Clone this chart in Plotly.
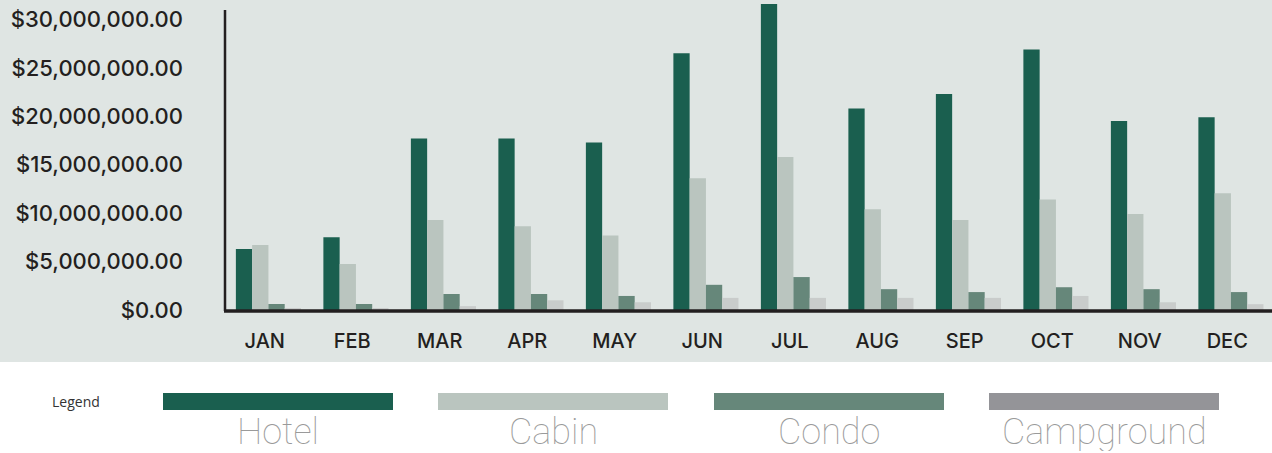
import plotly.graph_objects as go

months = ["JAN", "FEB", "MAR", "APR", "MAY", "JUN", "JUL", "AUG", "SEP", "OCT", "NOV", "DEC"]
hotel = [6.3e6, 7.5e6, 17.7e6, 17.7e6, 17.3e6, 26.5e6, 31.6e6, 20.8e6, 22.3e6, 26.9e6, 19.5e6, 19.9e6]
cabin = [6.7e6, 4.75e6, 9.3e6, 8.65e6, 7.7e6, 13.6e6, 15.8e6, 10.4e6, 9.3e6, 11.4e6, 9.9e6, 12.05e6]
condo = [0.62e6, 0.62e6, 1.65e6, 1.65e6, 1.45e6, 2.6e6, 3.4e6, 2.15e6, 1.85e6, 2.35e6, 2.15e6, 1.85e6]
campground = [0.2e6, 0.2e6, 0.4e6, 1.0e6, 0.8e6, 1.25e6, 1.25e6, 1.25e6, 1.25e6, 1.45e6, 0.8e6, 0.6e6]

series_names = ["Hotel", "Cabin", "Condo", "Campground"]
bar_colors = ["#1a5f4f", "#bac5bf", "#66877a", "#c9cccb"]
legend_colors = ["#1a5f4f", "#bac5bf", "#66877a", "#949498"]
ytick_vals = [0, 5e6, 10e6, 15e6, 20e6, 25e6, 30e6]
ytick_text = ["$0.00", "$5,000,000.00", "$10,000,000.00", "$15,000,000.00",
              "$20,000,000.00", "$25,000,000.00", "$30,000,000.00"]

W, H = 1272, 453
L, R, T, B = 221, 1, 0, 143
PW, PH = W - L - R, H - T - B

def px(x):
    return (x - L) / PW

def py(y):
    return (H - B - y) / PH

fig = go.Figure()
bw = 0.186
offsets = [-0.33, -0.144, 0.042, 0.228]
for name, vals, col, off in zip(series_names, [hotel, cabin, condo, campground], bar_colors, offsets):
    fig.add_trace(go.Bar(x=months, y=vals, name=name, marker=dict(color=col, line=dict(width=0)),
                         width=bw, offset=off))

shapes = [
    dict(type="rect", xref="paper", yref="paper", x0=px(0), x1=px(W), y0=py(362), y1=py(0),
         fillcolor="#dfe5e3", line=dict(width=0), layer="below"),
    dict(type="line", xref="paper", yref="paper", x0=px(225), x1=px(225), y0=py(10), y1=py(311),
         line=dict(color="#231f20", width=2.5)),
    dict(type="line", xref="paper", yref="paper", x0=px(224), x1=px(W), y0=py(311), y1=py(311),
         line=dict(color="#231f20", width=3.5)),
]
annotations = [
    dict(text="Legend", xref="paper", yref="paper", x=px(76), y=py(401), showarrow=False,
         font=dict(family="Open Sans", size=14, color="#333333"), xanchor="center", yanchor="middle"),
]
sw_x = [163, 438, 714, 989]
for name, col, x0 in zip(series_names, legend_colors, sw_x):
    shapes.append(dict(type="rect", xref="paper", yref="paper", x0=px(x0), x1=px(x0 + 230),
                       y0=py(410), y1=py(393), fillcolor=col, line=dict(width=0)))
    annotations.append(dict(text=name, xref="paper", yref="paper", x=px(x0 + 115), y=py(432),
                            showarrow=False, xanchor="center", yanchor="middle",
                            height=38, valign="middle",
                            font=dict(family="Roboto", size=36, color="#9a9a9a", weight=100)))

fig.update_layout(
    width=W, height=H, margin=dict(l=L, r=R, t=T, b=B),
    paper_bgcolor="white", plot_bgcolor="#dfe5e3",
    barmode="overlay", showlegend=False,
    shapes=shapes, annotations=annotations,
    xaxis=dict(type="category", showgrid=False, showline=False, zeroline=False, ticks="",
               ticklabelstandoff=17,
               tickfont=dict(family="Inter", size=20, color="#231f20", weight=500)),
    yaxis=dict(range=[0, 32e6], tickvals=ytick_vals, ticktext=ytick_text, showgrid=False,
               showline=False, zeroline=False, ticks="", ticklabelstandoff=37,
               tickfont=dict(family="Inter", size=22, color="#231f20", weight=500)),
)
fig.write_html("out.html", config={"displayModeBar": False},
               post_script="document.body.style.margin='0';document.body.style.padding='0';")
